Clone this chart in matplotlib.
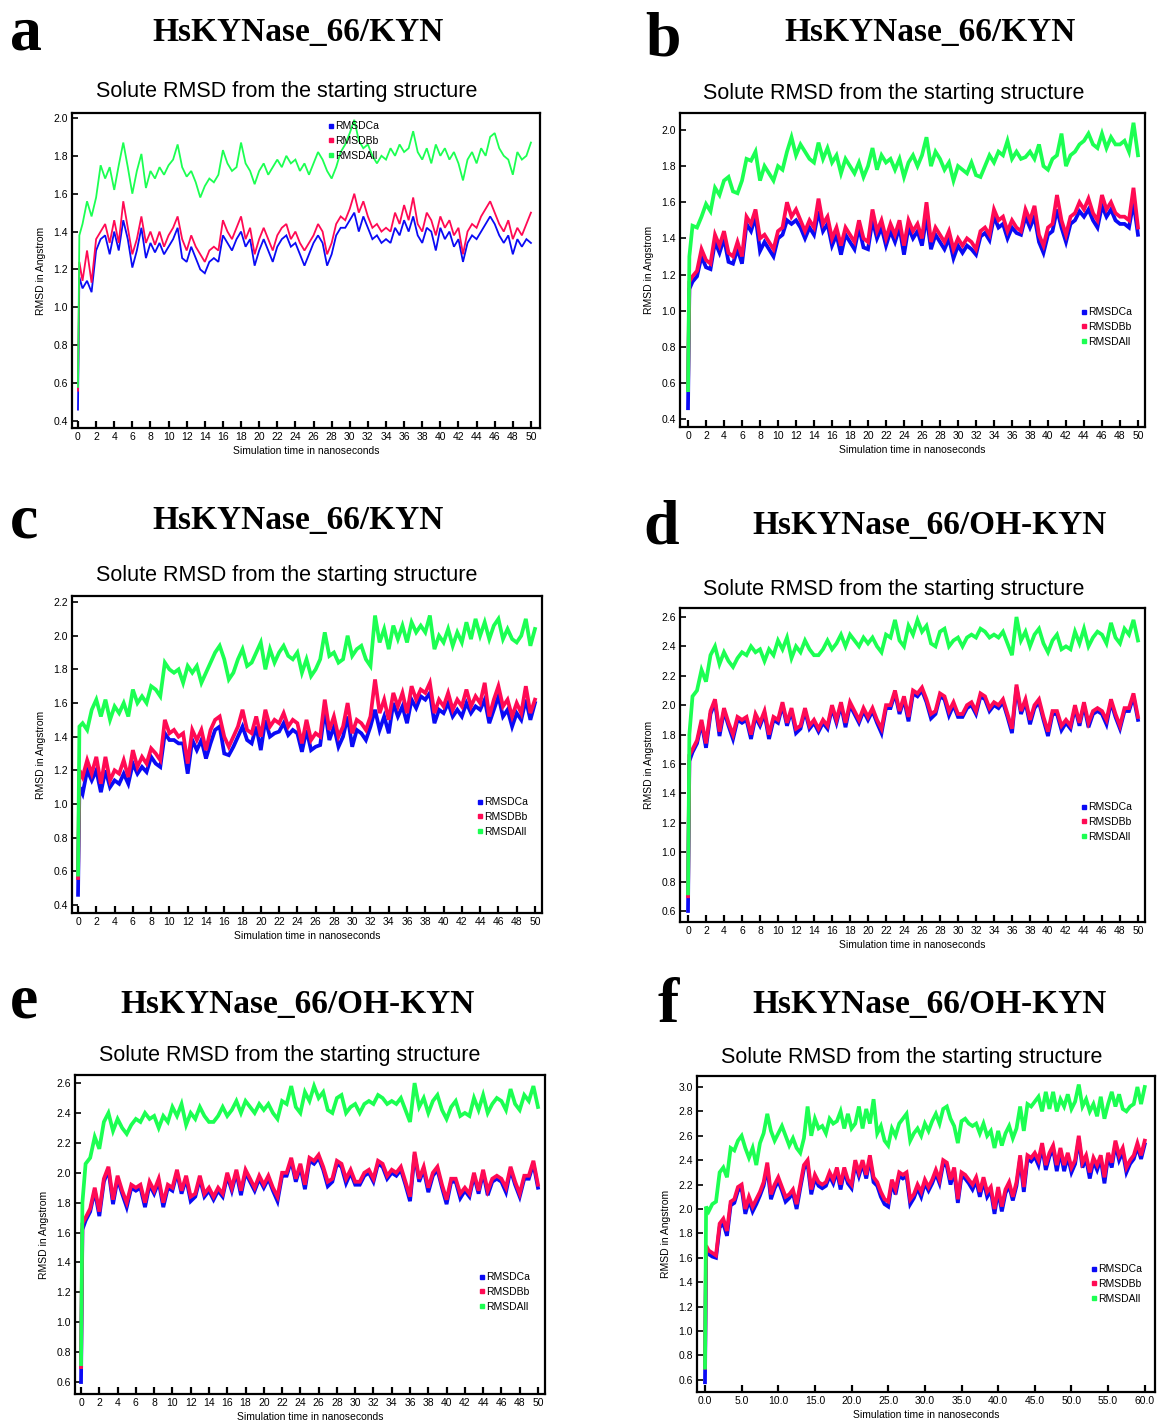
import numpy as np
import matplotlib
matplotlib.use("Agg")
import matplotlib.pyplot as plt
from matplotlib.lines import Line2D

plt.rcParams["font.family"] = ["Liberation Sans", "DejaVu Sans"]

# values: first point at t=0, second at t=0.15 ns, then every 0.5 ns
# panel a  (HsKYNase_66/KYN)
a_ca = [0.46, 1.16,
        1.10, 1.14, 1.08, 1.30, 1.36, 1.38, 1.28, 1.40, 1.30, 1.46,
        1.36, 1.21, 1.30, 1.42, 1.26, 1.34, 1.29, 1.34, 1.28, 1.32,
        1.36, 1.42, 1.26, 1.24, 1.32, 1.26, 1.20, 1.18, 1.24, 1.26,
        1.24, 1.38, 1.34, 1.30, 1.36, 1.40, 1.32, 1.36, 1.22, 1.30,
        1.36, 1.30, 1.24, 1.32, 1.36, 1.38, 1.32, 1.34, 1.28, 1.22,
        1.28, 1.34, 1.38, 1.34, 1.22, 1.28, 1.38, 1.42, 1.42, 1.46,
        1.50, 1.40, 1.48, 1.42, 1.36, 1.38, 1.34, 1.36, 1.34, 1.42,
        1.38, 1.46, 1.40, 1.48, 1.38, 1.34, 1.42, 1.40, 1.30, 1.42,
        1.36, 1.40, 1.32, 1.36, 1.24, 1.34, 1.38, 1.36, 1.40, 1.44,
        1.48, 1.44, 1.38, 1.34, 1.38, 1.28, 1.36, 1.32, 1.36, 1.34]
a_bb = [0.56, 1.24,
        1.14, 1.30, 1.13, 1.36, 1.40, 1.44, 1.34, 1.46, 1.34, 1.56,
        1.42, 1.28, 1.36, 1.48, 1.34, 1.40, 1.33, 1.40, 1.32, 1.38,
        1.42, 1.48, 1.36, 1.30, 1.38, 1.32, 1.28, 1.24, 1.30, 1.32,
        1.30, 1.46, 1.40, 1.36, 1.42, 1.48, 1.36, 1.42, 1.28, 1.36,
        1.42, 1.36, 1.30, 1.38, 1.42, 1.44, 1.36, 1.40, 1.34, 1.30,
        1.34, 1.38, 1.44, 1.40, 1.28, 1.34, 1.44, 1.48, 1.46, 1.52,
        1.60, 1.50, 1.56, 1.48, 1.42, 1.44, 1.40, 1.42, 1.40, 1.50,
        1.44, 1.54, 1.46, 1.58, 1.44, 1.40, 1.50, 1.46, 1.38, 1.48,
        1.42, 1.46, 1.38, 1.42, 1.28, 1.40, 1.44, 1.42, 1.48, 1.52,
        1.56, 1.50, 1.44, 1.40, 1.46, 1.36, 1.42, 1.38, 1.44, 1.50]
a_all = [0.58, 1.38,
         1.44, 1.56, 1.48, 1.58, 1.75, 1.68, 1.74, 1.62, 1.75, 1.87,
         1.74, 1.60, 1.72, 1.81, 1.63, 1.72, 1.68, 1.74, 1.70, 1.75,
         1.78, 1.86, 1.74, 1.69, 1.72, 1.66, 1.58, 1.64, 1.68, 1.66,
         1.70, 1.83, 1.76, 1.72, 1.74, 1.87, 1.76, 1.72, 1.65, 1.72,
         1.76, 1.70, 1.74, 1.78, 1.74, 1.80, 1.76, 1.78, 1.72, 1.76,
         1.70, 1.76, 1.82, 1.78, 1.72, 1.68, 1.74, 1.82, 1.86, 1.92,
         1.99, 1.88, 1.84, 1.86, 1.80, 1.76, 1.80, 1.78, 1.84, 1.80,
         1.86, 1.82, 1.84, 1.93, 1.82, 1.78, 1.84, 1.76, 1.86, 1.80,
         1.84, 1.78, 1.82, 1.76, 1.67, 1.78, 1.82, 1.76, 1.84, 1.80,
         1.90, 1.92, 1.84, 1.80, 1.78, 1.70, 1.82, 1.78, 1.80, 1.87]

# panel b  (HsKYNase_66/KYN)
b_ca = [0.46, 1.12,
        1.16, 1.19, 1.30, 1.24, 1.23, 1.38, 1.32, 1.40, 1.27, 1.26,
        1.34, 1.26, 1.48, 1.44, 1.52, 1.33, 1.38, 1.34, 1.30, 1.40,
        1.42, 1.50, 1.48, 1.50, 1.46, 1.40, 1.46, 1.42, 1.55, 1.44,
        1.48, 1.36, 1.42, 1.31, 1.42, 1.38, 1.34, 1.46, 1.35, 1.34,
        1.50, 1.40, 1.46, 1.36, 1.44, 1.38, 1.46, 1.31, 1.46, 1.40,
        1.44, 1.36, 1.52, 1.34, 1.42, 1.38, 1.34, 1.40, 1.29, 1.36,
        1.32, 1.36, 1.34, 1.31, 1.41, 1.43, 1.39, 1.52, 1.46, 1.48,
        1.40, 1.46, 1.43, 1.42, 1.52, 1.46, 1.52, 1.38, 1.32, 1.42,
        1.44, 1.56, 1.46, 1.38, 1.48, 1.50, 1.55, 1.52, 1.56, 1.50,
        1.46, 1.58, 1.52, 1.56, 1.50, 1.48, 1.48, 1.46, 1.60, 1.42]
b_bb = [0.56, 1.16,
        1.19, 1.22, 1.34, 1.28, 1.26, 1.42, 1.36, 1.44, 1.32, 1.30,
        1.38, 1.30, 1.52, 1.48, 1.56, 1.40, 1.42, 1.38, 1.34, 1.44,
        1.46, 1.60, 1.52, 1.56, 1.50, 1.44, 1.50, 1.46, 1.62, 1.48,
        1.52, 1.40, 1.46, 1.36, 1.46, 1.42, 1.38, 1.50, 1.40, 1.38,
        1.56, 1.44, 1.50, 1.40, 1.48, 1.42, 1.50, 1.36, 1.50, 1.44,
        1.48, 1.40, 1.60, 1.38, 1.46, 1.42, 1.38, 1.44, 1.34, 1.40,
        1.36, 1.40, 1.38, 1.34, 1.44, 1.46, 1.42, 1.56, 1.50, 1.52,
        1.44, 1.50, 1.46, 1.44, 1.56, 1.50, 1.58, 1.42, 1.36, 1.46,
        1.48, 1.64, 1.50, 1.42, 1.52, 1.54, 1.60, 1.56, 1.62, 1.54,
        1.50, 1.64, 1.56, 1.60, 1.54, 1.52, 1.52, 1.50, 1.68, 1.46]
b_all = [0.56, 1.30,
         1.47, 1.46, 1.52, 1.59, 1.55, 1.68, 1.64, 1.72, 1.74, 1.66,
         1.65, 1.72, 1.84, 1.83, 1.88, 1.72, 1.80, 1.76, 1.72, 1.80,
         1.78, 1.88, 1.96, 1.86, 1.92, 1.88, 1.84, 1.82, 1.93, 1.84,
         1.90, 1.82, 1.86, 1.76, 1.84, 1.80, 1.76, 1.82, 1.74, 1.80,
         1.90, 1.78, 1.86, 1.82, 1.84, 1.78, 1.84, 1.74, 1.82, 1.86,
         1.80, 1.86, 1.96, 1.80, 1.88, 1.84, 1.78, 1.82, 1.72, 1.80,
         1.78, 1.76, 1.82, 1.75, 1.74, 1.80, 1.86, 1.82, 1.88, 1.86,
         1.94, 1.84, 1.88, 1.84, 1.85, 1.88, 1.84, 1.92, 1.80, 1.78,
         1.84, 1.86, 1.98, 1.80, 1.86, 1.88, 1.92, 1.94, 1.98, 1.92,
         1.90, 1.98, 1.90, 1.96, 1.92, 1.92, 1.94, 1.88, 2.04, 1.86]

# panel c  (HsKYNase_66/KYN)
c_ca = [0.46, 1.10,
        1.06, 1.20, 1.14, 1.20, 1.07, 1.20, 1.10, 1.14, 1.12, 1.18,
        1.12, 1.24, 1.18, 1.22, 1.19, 1.28, 1.24, 1.22, 1.42, 1.38,
        1.38, 1.36, 1.36, 1.18, 1.38, 1.32, 1.38, 1.27, 1.36, 1.44,
        1.46, 1.30, 1.29, 1.34, 1.40, 1.46, 1.38, 1.36, 1.46, 1.32,
        1.50, 1.40, 1.42, 1.43, 1.48, 1.41, 1.44, 1.42, 1.31, 1.44,
        1.32, 1.34, 1.35, 1.56, 1.38, 1.46, 1.34, 1.40, 1.52, 1.34,
        1.44, 1.42, 1.38, 1.46, 1.56, 1.44, 1.52, 1.42, 1.60, 1.52,
        1.58, 1.48, 1.62, 1.57, 1.64, 1.62, 1.66, 1.48, 1.56, 1.54,
        1.60, 1.52, 1.56, 1.52, 1.60, 1.54, 1.58, 1.56, 1.62, 1.48,
        1.56, 1.64, 1.52, 1.56, 1.46, 1.54, 1.50, 1.62, 1.50, 1.60]
c_bb = [0.56, 1.20,
        1.16, 1.26, 1.18, 1.28, 1.12, 1.28, 1.14, 1.20, 1.18, 1.26,
        1.16, 1.32, 1.22, 1.28, 1.24, 1.33, 1.30, 1.26, 1.50, 1.42,
        1.44, 1.40, 1.42, 1.24, 1.44, 1.38, 1.44, 1.32, 1.44, 1.50,
        1.52, 1.40, 1.34, 1.40, 1.46, 1.56, 1.44, 1.42, 1.52, 1.40,
        1.56, 1.46, 1.50, 1.48, 1.54, 1.46, 1.50, 1.48, 1.36, 1.50,
        1.38, 1.42, 1.40, 1.62, 1.44, 1.52, 1.40, 1.46, 1.60, 1.42,
        1.50, 1.48, 1.44, 1.52, 1.74, 1.54, 1.62, 1.50, 1.66, 1.58,
        1.66, 1.54, 1.70, 1.62, 1.68, 1.66, 1.72, 1.54, 1.62, 1.58,
        1.66, 1.56, 1.62, 1.58, 1.68, 1.58, 1.64, 1.60, 1.72, 1.52,
        1.62, 1.70, 1.58, 1.62, 1.52, 1.60, 1.54, 1.70, 1.54, 1.62]
c_all = [0.58, 1.46,
         1.48, 1.44, 1.56, 1.62, 1.52, 1.62, 1.50, 1.58, 1.54, 1.60,
         1.52, 1.68, 1.60, 1.64, 1.60, 1.70, 1.68, 1.64, 1.84, 1.80,
         1.78, 1.80, 1.72, 1.82, 1.78, 1.82, 1.72, 1.78, 1.84, 1.90,
         1.94, 1.86, 1.74, 1.78, 1.86, 1.92, 1.82, 1.84, 1.90, 1.96,
         1.80, 1.92, 1.84, 1.90, 1.94, 1.88, 1.86, 1.90, 1.78, 1.86,
         1.76, 1.80, 1.86, 2.02, 1.88, 1.90, 1.84, 1.86, 2.00, 1.88,
         1.92, 1.94, 1.86, 1.82, 2.12, 1.96, 2.04, 1.92, 2.06, 1.98,
         2.06, 1.96, 2.08, 2.02, 2.06, 2.02, 2.12, 1.92, 2.00, 1.96,
         2.04, 1.94, 2.02, 1.96, 2.08, 1.98, 2.10, 2.00, 2.08, 1.98,
         2.06, 2.10, 1.98, 2.04, 1.98, 1.96, 2.00, 2.10, 1.94, 2.04]

# panels d and e  (HsKYNase_66/OH-KYN, the two plots show the same run)
d_ca = [0.60, 1.62,
        1.68, 1.74, 1.88, 1.71, 1.94, 2.02, 1.79, 1.96, 1.86, 1.77,
        1.90, 1.88, 1.90, 1.77, 1.92, 1.86, 1.94, 1.77, 1.90, 1.88,
        2.00, 1.86, 1.96, 1.81, 1.84, 1.96, 1.84, 1.88, 1.82, 1.88,
        1.84, 1.98, 1.88, 2.00, 1.85, 2.00, 1.94, 1.88, 1.96, 1.90,
        1.96, 1.88, 1.81, 1.98, 1.98, 2.08, 1.94, 2.04, 1.89, 2.08,
        2.06, 2.10, 2.02, 1.91, 1.94, 2.06, 2.04, 1.93, 2.00, 1.92,
        1.92, 1.98, 2.00, 1.94, 2.06, 2.04, 1.96, 2.00, 1.98, 2.02,
        1.92, 1.81, 2.12, 1.94, 2.02, 1.87, 1.98, 2.02, 1.90, 1.79,
        1.94, 1.94, 1.83, 1.88, 1.84, 1.98, 1.86, 2.00, 1.85, 1.94,
        1.96, 1.94, 1.87, 2.02, 1.92, 1.84, 1.96, 1.96, 2.06, 1.90]
d_bb = [0.70, 1.66,
        1.70, 1.76, 1.90, 1.74, 1.96, 2.04, 1.82, 1.98, 1.88, 1.80,
        1.92, 1.90, 1.92, 1.80, 1.94, 1.88, 1.96, 1.80, 1.92, 1.90,
        2.02, 1.88, 1.98, 1.84, 1.86, 1.98, 1.86, 1.90, 1.84, 1.90,
        1.86, 2.00, 1.90, 2.02, 1.88, 2.02, 1.96, 1.90, 1.98, 1.92,
        1.98, 1.90, 1.84, 2.00, 2.00, 2.10, 1.96, 2.06, 1.92, 2.10,
        2.08, 2.12, 2.04, 1.94, 1.96, 2.08, 2.06, 1.96, 2.02, 1.94,
        1.94, 2.00, 2.02, 1.96, 2.08, 2.06, 1.98, 2.02, 2.00, 2.04,
        1.94, 1.84, 2.14, 1.96, 2.04, 1.90, 2.00, 2.04, 1.92, 1.82,
        1.96, 1.96, 1.86, 1.90, 1.86, 2.00, 1.88, 2.02, 1.88, 1.96,
        1.98, 1.96, 1.90, 2.04, 1.94, 1.86, 1.98, 1.98, 2.08, 1.92]
d_all = [0.72, 1.80,
         2.06, 2.10, 2.24, 2.16, 2.34, 2.40, 2.28, 2.36, 2.30, 2.26,
         2.32, 2.36, 2.34, 2.40, 2.36, 2.38, 2.30, 2.38, 2.34, 2.44,
         2.38, 2.46, 2.32, 2.40, 2.36, 2.44, 2.38, 2.34, 2.34, 2.38,
         2.44, 2.38, 2.42, 2.48, 2.40, 2.48, 2.44, 2.40, 2.46, 2.42,
         2.46, 2.40, 2.36, 2.48, 2.46, 2.58, 2.44, 2.40, 2.54, 2.48,
         2.58, 2.50, 2.54, 2.42, 2.40, 2.50, 2.52, 2.40, 2.44, 2.46,
         2.40, 2.46, 2.48, 2.46, 2.52, 2.50, 2.46, 2.48, 2.46, 2.50,
         2.42, 2.34, 2.60, 2.44, 2.50, 2.40, 2.48, 2.52, 2.42, 2.36,
         2.44, 2.48, 2.38, 2.40, 2.38, 2.50, 2.42, 2.52, 2.40, 2.46,
         2.50, 2.48, 2.42, 2.56, 2.46, 2.42, 2.52, 2.48, 2.58, 2.44]

# panel f  (HsKYNase_66/OH-KYN, 60 ns)
f_ca = [0.58, 1.64,
        1.63, 1.61, 1.60, 1.85, 1.88, 1.78, 2.03, 2.05, 2.15, 2.17,
        1.96, 2.07, 1.98, 2.04, 2.11, 2.19, 2.34, 2.08, 2.17, 2.23,
        2.15, 2.06, 2.09, 2.13, 2.00, 2.17, 2.33, 2.37, 2.12, 2.25,
        2.19, 2.17, 2.19, 2.27, 2.21, 2.31, 2.16, 2.31, 2.21, 2.17,
        2.37, 2.27, 2.37, 2.25, 2.41, 2.22, 2.19, 2.10, 2.04, 2.02,
        2.21, 2.12, 2.27, 2.25, 2.27, 2.04, 2.09, 2.17, 2.10, 2.21,
        2.15, 2.21, 2.29, 2.21, 2.37, 2.35, 2.20, 2.31, 2.05, 2.27,
        2.25, 2.21, 2.16, 2.23, 2.10, 2.23, 2.10, 2.15, 1.96, 2.15,
        1.98, 2.13, 2.19, 2.07, 2.19, 2.41, 2.14, 2.41, 2.39, 2.43,
        2.36, 2.51, 2.32, 2.43, 2.49, 2.31, 2.47, 2.31, 2.43, 2.30,
        2.37, 2.57, 2.34, 2.41, 2.25, 2.39, 2.32, 2.41, 2.21, 2.43,
        2.34, 2.53, 2.40, 2.47, 2.30, 2.37, 2.41, 2.51, 2.41, 2.53]
f_bb = [0.70, 1.70,
        1.66, 1.64, 1.62, 1.88, 1.92, 1.82, 2.06, 2.08, 2.18, 2.20,
        2.00, 2.10, 2.02, 2.08, 2.14, 2.22, 2.38, 2.12, 2.20, 2.26,
        2.18, 2.10, 2.12, 2.16, 2.04, 2.20, 2.36, 2.40, 2.16, 2.28,
        2.22, 2.20, 2.22, 2.30, 2.24, 2.34, 2.20, 2.34, 2.24, 2.20,
        2.40, 2.30, 2.40, 2.28, 2.44, 2.26, 2.22, 2.14, 2.08, 2.06,
        2.24, 2.16, 2.30, 2.28, 2.30, 2.08, 2.12, 2.20, 2.14, 2.24,
        2.18, 2.24, 2.32, 2.24, 2.40, 2.38, 2.24, 2.34, 2.08, 2.30,
        2.28, 2.24, 2.20, 2.26, 2.14, 2.26, 2.14, 2.18, 2.00, 2.18,
        2.02, 2.16, 2.22, 2.10, 2.22, 2.44, 2.18, 2.44, 2.42, 2.46,
        2.40, 2.54, 2.36, 2.46, 2.52, 2.36, 2.50, 2.36, 2.46, 2.34,
        2.40, 2.60, 2.38, 2.44, 2.30, 2.42, 2.36, 2.44, 2.26, 2.46,
        2.38, 2.56, 2.44, 2.50, 2.34, 2.40, 2.44, 2.54, 2.44, 2.56]
f_all = [0.70, 2.02,
         1.98, 2.04, 2.06, 2.30, 2.34, 2.26, 2.50, 2.48, 2.56, 2.60,
         2.50, 2.42, 2.50, 2.36, 2.54, 2.62, 2.78, 2.64, 2.56, 2.62,
         2.68, 2.60, 2.52, 2.58, 2.50, 2.46, 2.58, 2.84, 2.60, 2.74,
         2.66, 2.68, 2.62, 2.74, 2.70, 2.72, 2.80, 2.66, 2.78, 2.66,
         2.70, 2.84, 2.66, 2.82, 2.70, 2.90, 2.62, 2.68, 2.56, 2.52,
         2.66, 2.60, 2.70, 2.74, 2.78, 2.56, 2.62, 2.66, 2.60, 2.70,
         2.64, 2.72, 2.78, 2.70, 2.82, 2.84, 2.74, 2.68, 2.54, 2.72,
         2.74, 2.70, 2.68, 2.70, 2.62, 2.70, 2.60, 2.64, 2.50, 2.64,
         2.52, 2.62, 2.68, 2.58, 2.66, 2.84, 2.64, 2.86, 2.84, 2.88,
         2.92, 2.80, 2.96, 2.82, 2.96, 2.80, 2.90, 2.84, 2.94, 2.82,
         2.88, 3.02, 2.84, 2.90, 2.80, 2.86, 2.76, 2.92, 2.74, 2.86,
         2.96, 2.84, 2.94, 2.82, 2.80, 2.84, 2.86, 3.00, 2.86, 3.00]

series_names = ["RMSDCa", "RMSDBb", "RMSDAll"]
series_colors = ["#0a0af5", "#ff0a54", "#1cff52"]

W, H = 1157, 1422
fig = plt.figure(figsize=(W / 100, H / 100), dpi=100)


def px_rect(left, top, right, bottom):
    return [left / W, 1 - bottom / H, (right - left) / W, (bottom - top) / H]


def sample_times(vals, t_end):
    return np.r_[0.0, 0.15, np.linspace(0.5, t_end, len(vals) - 2)]


def panel(rect, t_end, data, xlim, ylim, yticks, xticks, xfmt, lw, leg_px,
          letter, letter_px, title, title_px, sub_px):
    ax = fig.add_axes(px_rect(*rect))
    for vals, col in zip(data, series_colors):
        ax.plot(sample_times(vals, t_end), vals, color=col, lw=lw,
                solid_joinstyle="miter")
    ax.set_xlim(*xlim)
    ax.set_ylim(*ylim)
    ax.set_xticks(xticks)
    ax.set_xticklabels([xfmt.format(v) for v in xticks])
    ax.set_yticks(yticks)
    ax.set_yticklabels(["{:.1f}".format(v) for v in yticks])
    ax.tick_params(axis="x", direction="in", length=5, width=1.6,
                   labelsize=7.5, pad=3)
    ax.tick_params(axis="y", direction="in", length=4, width=1.2,
                   labelsize=7.5, pad=3)
    for sp in ax.spines.values():
        sp.set_linewidth(1.6)
    ax.set_xlabel("Simulation time in nanoseconds", fontsize=7.5, labelpad=3)
    ax.set_ylabel("RMSD in Angstrom", fontsize=7.5, labelpad=5)

    handles = [Line2D([], [], ls="", marker="s", ms=2.6, color=c)
               for c in series_colors]
    ax.legend(handles, series_names, loc="center left",
              bbox_to_anchor=(leg_px[0] / W, 1 - leg_px[1] / H),
              bbox_transform=fig.transFigure, frameon=False, fontsize=7.5,
              handlelength=0.4, handletextpad=0.15, labelspacing=0.45,
              borderpad=0, borderaxespad=0)

    fig.text(letter_px[0] / W, 1 - letter_px[1] / H, letter,
             family="Liberation Serif", weight="bold", fontsize=46,
             ha="left", va="baseline")
    fig.text(title_px[0] / W, 1 - title_px[1] / H, title,
             family="Liberation Serif", weight="bold", fontsize=24,
             ha="center", va="center")
    fig.text(sub_px[0] / W, 1 - sub_px[1] / H,
             "Solute RMSD from the starting structure", fontsize=15.5,
             ha="center", va="center")
    return ax


ticks50 = np.arange(0, 51, 2)
kyn = "HsKYNase_66/KYN"
ohkyn = "HsKYNase_66/OH-KYN"

panel((72, 113, 540, 428), 50, (a_ca, a_bb, a_all), (-0.66, 51.0), (0.363, 2.026),
      np.arange(0.4, 2.01, 0.2), ticks50, "{:d}", 1.3, (329, 141),
      "a", (10, 50), kyn, (298, 33), (287, 92))
panel((680, 113, 1145, 427), 50, (b_ca, b_bb, b_all), (-0.89, 50.78), (0.356, 2.094),
      np.arange(0.4, 2.01, 0.2), ticks50, "{:d}", 2.7, (1082, 327),
      "b", (645, 55), kyn, (930, 33), (894, 94))
panel((72, 596, 542, 913), 50, (c_ca, c_bb, c_all), (-0.66, 50.77), (0.352, 2.236),
      np.arange(0.4, 2.21, 0.2), ticks50, "{:d}", 2.7, (478, 817),
      "c", (10, 538), kyn, (298, 520), (287, 576))
panel((680, 608, 1145, 922), 50, (d_ca, d_bb, d_all), (-0.89, 50.78), (0.525, 2.661),
      np.arange(0.6, 2.61, 0.2), ticks50, "{:d}", 2.7, (1082, 822),
      "d", (643, 543), ohkyn, (930, 525), (894, 589))
panel((75, 1075, 545, 1394), 50, (d_ca, d_bb, d_all), (-0.66, 50.77), (0.520, 2.654),
      np.arange(0.6, 2.61, 0.2), ticks50, "{:d}", 2.7, (480, 1292),
      "e", (10, 1018), ohkyn, (298, 1004), (290, 1055))
panel((697, 1076, 1155, 1392), 60, (f_ca, f_bb, f_all), (-1.09, 61.4), (0.50, 3.09),
      np.arange(0.6, 3.01, 0.2), np.arange(0, 61, 5), "{:.1f}", 2.7, (1092, 1284),
      "f", (657, 1022), ohkyn, (930, 1004), (912, 1057))

fig.savefig("out.png", dpi=100)
